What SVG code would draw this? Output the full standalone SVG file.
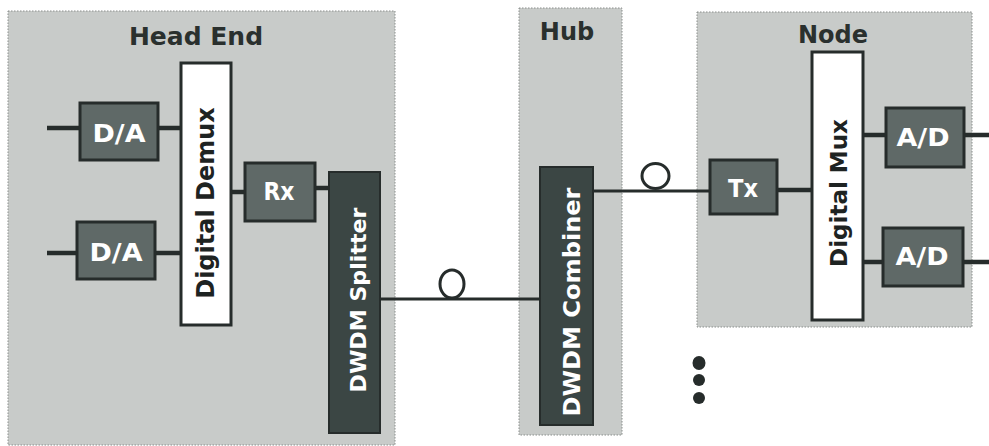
<svg xmlns="http://www.w3.org/2000/svg" width="989" height="446" viewBox="0 0 989 446">
  <style>
    .panel { fill: #c8cbc9; stroke: #8a8e8c; stroke-width: 1; stroke-dasharray: 1.5 1.5; }
    .title { font-family: "DejaVu Sans", "Liberation Sans", sans-serif; font-weight: bold; fill: #2a302e; text-anchor: middle; }
    .small { fill: #5f6967; stroke: #262c2b; stroke-width: 3; }
    .dwdm { fill: #3b4644; stroke: #262c2b; stroke-width: 2; }
    .mux { fill: #ffffff; stroke: #262c2b; stroke-width: 3; }
    .wlabel { font-family: "DejaVu Sans", "Liberation Sans", sans-serif; font-weight: bold; fill: #ffffff; text-anchor: middle; }
    .blabel { font-family: "DejaVu Sans", "Liberation Sans", sans-serif; font-weight: bold; fill: #1e2322; text-anchor: middle; }
    .thick { stroke: #262c2b; stroke-width: 4.5; fill: none; }
    .fiber { stroke: #262c2b; stroke-width: 3; fill: none; }
  </style>

  <g id="panels">
    <g id="head-end">
      <rect class="panel" x="8" y="11" width="387" height="434"/>
      <text class="title" x="196" y="45" font-size="25">Head End</text>
    </g>
    <g id="hub">
      <rect class="panel" x="519" y="8" width="103" height="427"/>
      <text class="title" x="567" y="40" font-size="24">Hub</text>
    </g>
    <g id="node">
      <rect class="panel" x="697" y="12" width="275" height="315"/>
      <text class="title" x="833" y="43" font-size="24">Node</text>
    </g>
  </g>

  <g id="connectors">
    <line class="thick" x1="47" y1="128" x2="181" y2="128"/>
    <line class="thick" x1="47" y1="253" x2="181" y2="253"/>
    <line class="thick" x1="231" y1="192" x2="245" y2="192"/>
    <line class="thick" x1="315" y1="188" x2="329" y2="188"/>
    <line class="fiber" x1="380" y1="299" x2="540" y2="299"/>
    <ellipse class="fiber" cx="452" cy="284" rx="12" ry="14"/>
    <line class="fiber" x1="593" y1="191" x2="710" y2="191"/>
    <ellipse class="fiber" cx="655.5" cy="176" rx="13.5" ry="12.5"/>
    <line class="thick" x1="777" y1="190" x2="812" y2="190"/>
    <line class="thick" x1="863" y1="135" x2="989" y2="135"/>
    <line class="thick" x1="863" y1="262" x2="989" y2="262"/>
  </g>

  <g id="da-top">
    <rect class="small" x="80" y="103" width="78" height="57"/>
    <text class="wlabel" x="119" y="142" font-size="24" textLength="53" lengthAdjust="spacingAndGlyphs">D/A</text>
  </g>
  <g id="da-bottom">
    <rect class="small" x="77" y="222" width="78" height="57"/>
    <text class="wlabel" x="116" y="261" font-size="24" textLength="53" lengthAdjust="spacingAndGlyphs">D/A</text>
  </g>
  <g id="digital-demux">
    <rect class="mux" x="181" y="63" width="50" height="262"/>
    <text class="blabel" transform="translate(214,203) rotate(-90)" font-size="24">Digital Demux</text>
  </g>
  <g id="rx">
    <rect class="small" x="245" y="163" width="70" height="58"/>
    <text class="wlabel" x="279" y="200" font-size="24" textLength="31" lengthAdjust="spacingAndGlyphs">Rx</text>
  </g>
  <g id="dwdm-splitter">
    <rect class="dwdm" x="329" y="172" width="51" height="261"/>
    <text class="wlabel" transform="translate(366,300) rotate(-90)" font-size="22" textLength="185" lengthAdjust="spacingAndGlyphs">DWDM  Splitter</text>
  </g>
  <g id="dwdm-combiner">
    <rect class="dwdm" x="540" y="167" width="53" height="258"/>
    <text class="wlabel" transform="translate(580,302) rotate(-90)" font-size="23" textLength="229" lengthAdjust="spacingAndGlyphs">DWDM  Combiner</text>
  </g>
  <g id="tx">
    <rect class="small" x="710" y="160" width="67" height="54"/>
    <text class="wlabel" x="743" y="197" font-size="24" textLength="30" lengthAdjust="spacingAndGlyphs">Tx</text>
  </g>
  <g id="digital-mux">
    <rect class="mux" x="812" y="52" width="51" height="268"/>
    <text class="blabel" transform="translate(847,193) rotate(-90)" font-size="23">Digital Mux</text>
  </g>
  <g id="ad-top">
    <rect class="small" x="886" y="108" width="78" height="59"/>
    <text class="wlabel" x="923" y="146" font-size="24" textLength="53" lengthAdjust="spacingAndGlyphs">A/D</text>
  </g>
  <g id="ad-bottom">
    <rect class="small" x="883" y="228" width="80" height="58"/>
    <text class="wlabel" x="922" y="265" font-size="24" textLength="53" lengthAdjust="spacingAndGlyphs">A/D</text>
  </g>

  <g id="ellipsis" fill="#262c2b">
    <ellipse cx="699" cy="363" rx="6.5" ry="7"/>
    <ellipse cx="699" cy="380" rx="6" ry="6"/>
    <ellipse cx="699" cy="398" rx="6" ry="6"/>
  </g>
</svg>
